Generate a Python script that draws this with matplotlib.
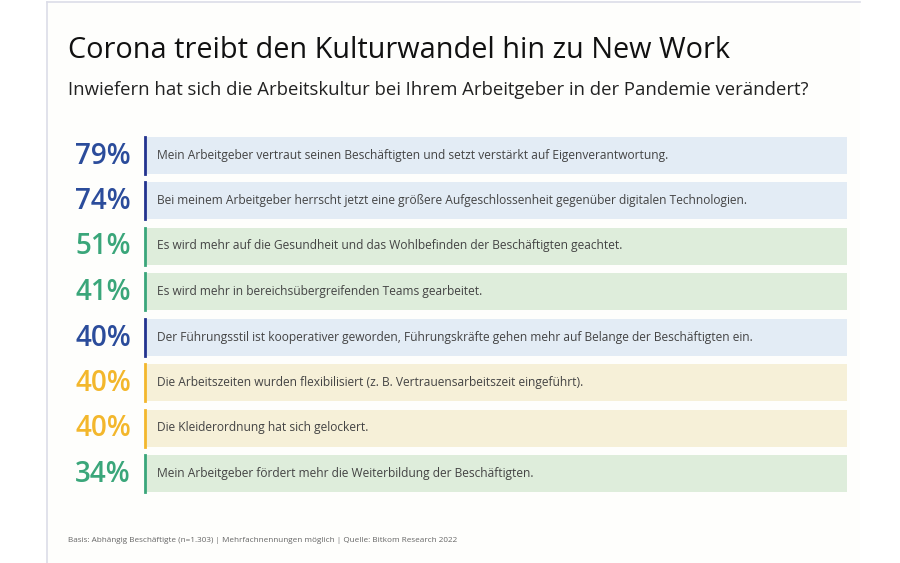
import matplotlib
matplotlib.use("Agg")
import matplotlib.pyplot as plt

TITLE = "Corona treibt den Kulturwandel hin zu New Work"
SUBTITLE = "Inwiefern hat sich die Arbeitskultur bei Ihrem Arbeitgeber in der Pandemie verändert?"
FOOTNOTE = "Basis: Abhängig Beschäftigte (n=1.303) | Mehrfachnennungen möglich | Quelle: Bitkom Research 2022"

values = [79, 74, 51, 41, 40, 40, 40, 34]
statements = [
    "Mein Arbeitgeber vertraut seinen Beschäftigten und setzt verstärkt auf Eigenverantwortung.",
    "Bei meinem Arbeitgeber herrscht jetzt eine größere Aufgeschlossenheit gegenüber digitalen Technologien.",
    "Es wird mehr auf die Gesundheit und das Wohlbefinden der Beschäftigten geachtet.",
    "Es wird mehr in bereichsübergreifenden Teams gearbeitet.",
    "Der Führungsstil ist kooperativer geworden, Führungskräfte gehen mehr auf Belange der Beschäftigten ein.",
    "Die Arbeitszeiten wurden flexibilisiert (z. B. Vertrauensarbeitszeit eingeführt).",
    "Die Kleiderordnung hat sich gelockert.",
    "Mein Arbeitgeber fördert mehr die Weiterbildung der Beschäftigten.",
]
groups = ["blue", "blue", "green", "green", "blue", "yellow", "yellow", "green"]

PALETTE = {
    "blue": {"text": "#2b4c9b", "line": "#23338f", "box": "#e3ecf5"},
    "green": {"text": "#3aa67a", "line": "#3aa67a", "box": "#deeddb"},
    "yellow": {"text": "#f3b72c", "line": "#f3b72c", "box": "#f6f0d8"},
}

plt.rcParams["font.family"] = ["Open Sans", "DejaVu Sans"]

fig = plt.figure(figsize=(9, 5.63), dpi=100)
fig.patch.set_facecolor("white")
ax = fig.add_axes([0, 0, 1, 1])
ax.set_xlim(0, 900)
ax.set_ylim(563, 0)
ax.axis("off")

# card background and frame
ax.add_patch(plt.Rectangle((47, 2), 813, 570, facecolor="#fefefc", edgecolor="none", zorder=0))
ax.plot([47, 47], [2, 563], color="#dcdde8", lw=1.2, zorder=1)
ax.plot([47, 860], [2, 2], color="#dcdde8", lw=1.2, zorder=1)

ax.text(68, 50, TITLE, fontsize=20.8, color="#111111", va="center", ha="left")
ax.text(68, 90, SUBTITLE, fontsize=13.3, color="#222222", va="center", ha="left")

rows = list(range(len(values)))
row_y = [155 + r * 45.5 for r in rows]
box_left, box_right, box_h = 146, 847, 37

ax.barh(row_y, [box_right - box_left] * len(values), left=box_left, height=box_h,
        color=[PALETTE[g]["box"] for g in groups], zorder=2)

for y, v, s, g in zip(row_y, values, statements, groups):
    ax.plot([145, 145], [y - box_h / 2, y + box_h / 2], color=PALETTE[g]["line"], lw=2, zorder=3)
    ax.text(131, y + 1, f"{v}%", fontsize=20, fontweight="semibold", color=PALETTE[g]["text"],
            ha="right", va="center", zorder=3)
    ax.text(157, y, s, fontsize=8.65, color="#444444", ha="left", va="center", zorder=3)

ax.text(68, 541, FOOTNOTE, fontsize=5.9, color="#666666", ha="left", va="center")

fig.savefig("out.png", dpi=100, facecolor=fig.get_facecolor())
